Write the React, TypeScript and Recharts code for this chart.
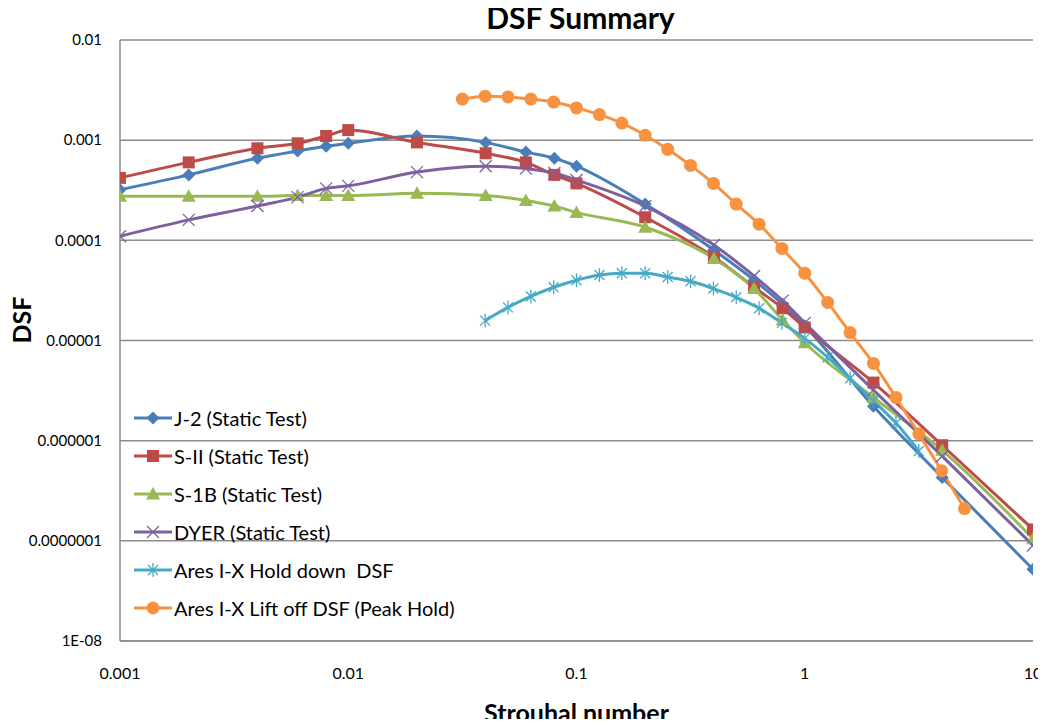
import { LineChart, Line, XAxis, YAxis, CartesianGrid } from 'recharts';

// Strouhal number values shared by the four static tests
const staticX = [0.001, 0.002, 0.004, 0.006, 0.008, 0.01, 0.02, 0.04, 0.06, 0.08, 0.1, 0.2, 0.4, 0.6, 0.8, 1, 2, 4, 10];

const j2Dsf = [3.2e-4, 4.5e-4, 6.6e-4, 7.8e-4, 8.7e-4, 9.3e-4, 1.1e-3, 9.5e-4, 7.6e-4, 6.6e-4, 5.5e-4, 2.3e-4, 8e-5, 4e-5, 2.3e-5, 1.4e-5, 2.2e-6, 4.3e-7, 5.2e-8];
const s2Dsf = [4.2e-4, 6.0e-4, 8.3e-4, 9.3e-4, 1.1e-3, 1.26e-3, 9.5e-4, 7.4e-4, 6.0e-4, 4.5e-4, 3.7e-4, 1.7e-4, 6.8e-5, 3.4e-5, 2.1e-5, 1.35e-5, 3.8e-6, 9e-7, 1.3e-7];
const s1bDsf = [2.75e-4, 2.75e-4, 2.75e-4, 2.8e-4, 2.8e-4, 2.8e-4, 2.95e-4, 2.8e-4, 2.5e-4, 2.2e-4, 1.9e-4, 1.35e-4, 6.6e-5, 3.3e-5, 1.6e-5, 9.5e-6, 2.7e-6, 8e-7, 1.05e-7];
const dyerDsf = [1.1e-4, 1.6e-4, 2.2e-4, 2.7e-4, 3.3e-4, 3.5e-4, 4.8e-4, 5.5e-4, 5.2e-4, 4.7e-4, 4.0e-4, 2.2e-4, 9e-5, 4.4e-5, 2.5e-5, 1.5e-5, 3.2e-6, 7e-7, 9e-8];

// Ares I-X, tenth-decade steps
const holdX = [0.0398, 0.0501, 0.0631, 0.0794, 0.1, 0.126, 0.158, 0.2, 0.251, 0.316, 0.398, 0.501, 0.631, 0.794, 1, 1.26, 1.58, 2, 2.51, 3.16];
const holdDsf = [1.58e-5, 2.14e-5, 2.75e-5, 3.4e-5, 4.0e-5, 4.5e-5, 4.7e-5, 4.7e-5, 4.3e-5, 3.9e-5, 3.3e-5, 2.7e-5, 2.1e-5, 1.5e-5, 1.05e-5, 6.8e-6, 4.2e-6, 2.5e-6, 1.5e-6, 7.9e-7];

const liftX = [0.0316, 0.0398, 0.0501, 0.0631, 0.0794, 0.1, 0.126, 0.158, 0.2, 0.251, 0.316, 0.398, 0.501, 0.631, 0.794, 1, 1.26, 1.58, 2, 2.51, 3.16, 3.98, 5.01];
const liftDsf = [2.57e-3, 2.75e-3, 2.7e-3, 2.57e-3, 2.4e-3, 2.1e-3, 1.8e-3, 1.48e-3, 1.12e-3, 8.1e-4, 5.6e-4, 3.7e-4, 2.3e-4, 1.45e-4, 8.3e-5, 4.7e-5, 2.4e-5, 1.2e-5, 5.9e-6, 2.7e-6, 1.17e-6, 5e-7, 2.1e-7];

const xTicks = [0.001, 0.01, 0.1, 1, 10];
const yTicks = [1e-8, 1e-7, 1e-6, 1e-5, 1e-4, 1e-3, 1e-2];
const yTickLabels = ['1E-08', '0.0000001', '0.000001', '0.00001', '0.0001', '0.001', '0.01'];

const toPoints = (xs: number[], ys: number[]) => xs.map((x, i) => ({ x, y: ys[i] }));

const FONT = 'Lato, Carlito, Calibri, sans-serif';

type Marker = 'diamond' | 'square' | 'triangle' | 'cross' | 'star' | 'circle';

function MarkerShape({ kind, cx, cy, color }: { kind: Marker; cx: number; cy: number; color: string }) {
  if (cx == null || cy == null || isNaN(cx) || isNaN(cy)) return null;
  switch (kind) {
    case 'diamond':
      return <polygon points={`${cx},${cy - 6.5} ${cx + 6.5},${cy} ${cx},${cy + 6.5} ${cx - 6.5},${cy}`} fill={color} />;
    case 'square':
      return <rect x={cx - 6} y={cy - 6} width={12} height={12} fill={color} />;
    case 'triangle':
      return <polygon points={`${cx},${cy - 7} ${cx + 7},${cy + 5.5} ${cx - 7},${cy + 5.5}`} fill={color} />;
    case 'cross':
      return (
        <g stroke={color} strokeWidth={1.3}>
          <line x1={cx - 6} y1={cy - 6} x2={cx + 6} y2={cy + 6} />
          <line x1={cx - 6} y1={cy + 6} x2={cx + 6} y2={cy - 6} />
        </g>
      );
    case 'star':
      return (
        <g stroke={color} strokeWidth={1.3}>
          <line x1={cx - 5} y1={cy - 5} x2={cx + 5} y2={cy + 5} />
          <line x1={cx - 5} y1={cy + 5} x2={cx + 5} y2={cy - 5} />
          <line x1={cx} y1={cy - 7} x2={cx} y2={cy + 7} />
        </g>
      );
    default:
      return <circle cx={cx} cy={cy} r={6.5} fill={color} />;
  }
}

const series = [
  { name: 'J-2 (Static Test)', color: '#4a7ebb', marker: 'diamond' as Marker, data: toPoints(staticX, j2Dsf) },
  { name: 'S-II (Static Test)', color: '#be4b48', marker: 'square' as Marker, data: toPoints(staticX, s2Dsf) },
  { name: 'S-1B (Static Test)', color: '#98b954', marker: 'triangle' as Marker, data: toPoints(staticX, s1bDsf) },
  { name: 'DYER (Static Test)', color: '#7d60a0', marker: 'cross' as Marker, data: toPoints(staticX, dyerDsf) },
  { name: 'Ares I-X Hold down  DSF', color: '#46aac5', marker: 'star' as Marker, data: toPoints(holdX, holdDsf) },
  { name: 'Ares I-X Lift off DSF (Peak Hold)', color: '#f69240', marker: 'circle' as Marker, data: toPoints(liftX, liftDsf) },
];

function LegendBox() {
  return (
    <div style={{ position: 'absolute', left: 133, top: 399, fontFamily: FONT, fontSize: 20, color: '#000' }}>
      {series.map(s => (
        <div key={s.name} style={{ display: 'flex', alignItems: 'center', height: 38 }}>
          <svg width={40} height={16} style={{ marginRight: 1 }}>
            <line x1={1} y1={8} x2={39} y2={8} stroke={s.color} strokeWidth={3} />
            <MarkerShape kind={s.marker} cx={20} cy={8} color={s.color} />
          </svg>
          <span style={{ whiteSpace: 'pre' }}>{s.name}</span>
        </div>
      ))}
    </div>
  );
}

// cancel the 8px body margin and clip, so the box is exactly the window
export default function App() {
  return (
    <div style={{ position: 'relative', width: 1046, height: 727, margin: -8, overflow: 'hidden', background: '#fff' }}>
      <LineChart width={1046} height={727} margin={{ top: 40, right: 13, left: 0, bottom: 0 }}>
        <CartesianGrid vertical={false} stroke="#8c8c8c" strokeWidth={1.5} />
        <XAxis
          type="number"
          dataKey="x"
          scale="log"
          domain={[0.001, 10]}
          ticks={xTicks}
          allowDataOverflow
          height={86}
          tickLine={false}
          tickSize={0}
          tickMargin={27}
          tickFormatter={(v: number) => String(v)}
          stroke="#8c8c8c"
          strokeWidth={1.5}
          tick={{ fill: '#000', fontSize: 16, fontFamily: FONT }}
        />
        <YAxis
          type="number"
          dataKey="y"
          scale="log"
          domain={[1e-8, 0.01]}
          ticks={yTicks}
          allowDataOverflow
          width={120}
          tickLine={false}
          tickSize={0}
          tickMargin={18}
          tickFormatter={(v: number) => yTickLabels[yTicks.findIndex(t => Math.abs(Math.log10(t) - Math.log10(v)) < 0.01)] ?? ''}
          stroke="#8c8c8c"
          strokeWidth={1.5}
          tick={{ fill: '#000', fontSize: 15, fontFamily: FONT }}
          label={{
            content: () => (
              <text x={31} y={320} transform="rotate(-90 31 320)" textAnchor="middle" fontFamily={FONT} fontWeight={700} fontSize={25} fill="#000">
                DSF
              </text>
            ),
          }}
        />
        {series.map(s => (
          <Line
            key={s.name}
            name={s.name}
            data={s.data}
            dataKey="y"
            type="monotone"
            stroke={s.color}
            strokeWidth={3}
            isAnimationActive={false}
            activeDot={false}
            dot={(p: any) => <MarkerShape key={`${s.name}-${p.index}`} kind={s.marker} cx={p.cx} cy={p.cy} color={s.color} />}
          />
        ))}
      </LineChart>
      <div
        style={{
          position: 'absolute', left: 124, top: 2, width: 913, textAlign: 'center',
          fontFamily: FONT, fontWeight: 700, fontSize: 30, lineHeight: '30px', color: '#000',
        }}
      >
        DSF Summary
      </div>
      <div
        style={{
          position: 'absolute', left: 120, top: 700, width: 913, textAlign: 'center',
          fontFamily: FONT, fontWeight: 700, fontSize: 25, lineHeight: '25px', color: '#000',
        }}
      >
        Strouhal number
      </div>
      <LegendBox />
    </div>
  );
}
